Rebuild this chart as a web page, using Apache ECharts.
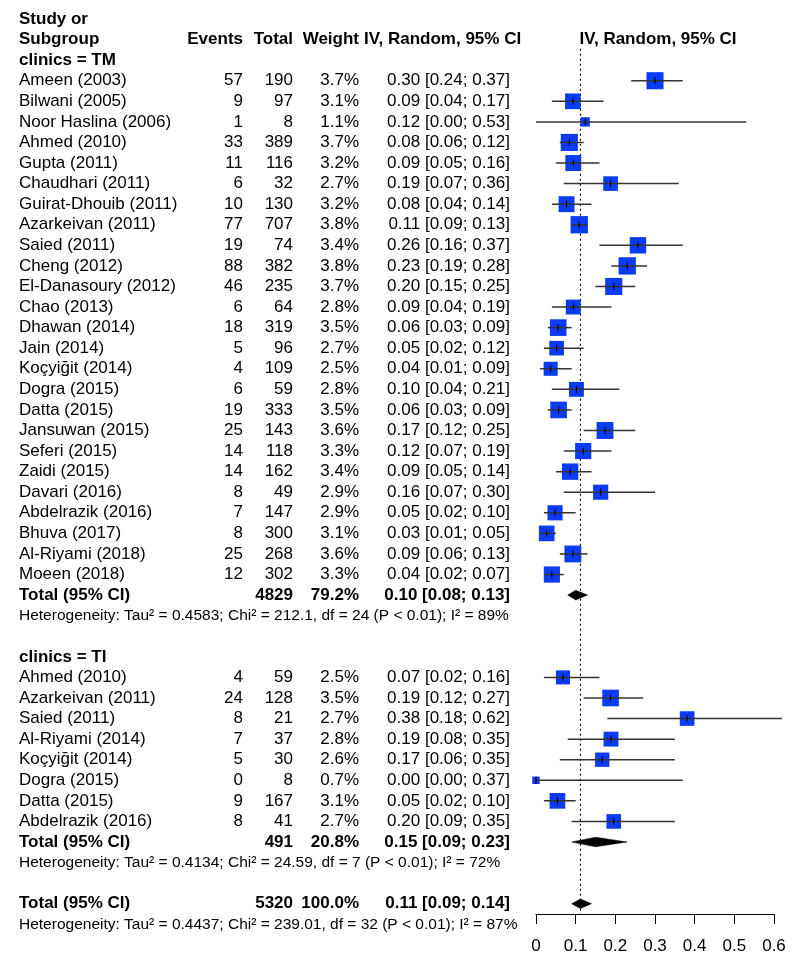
<!DOCTYPE html>
<html>
<head>
<meta charset="utf-8">
<script src="https://cdn.jsdelivr.net/npm/echarts@6/dist/echarts.min.js"></script>
<style>
html,body{margin:0;padding:0;background:#ffffff;}
#chart{width:800px;height:972px;}
</style>
</head>
<body>
<div id="chart"></div>
<script>
// ---------------- DATA ----------------
const tmStudies = ['Ameen (2003)','Bilwani (2005)','Noor Haslina (2006)','Ahmed (2010)','Gupta (2011)','Chaudhari (2011)','Guirat-Dhouib (2011)','Azarkeivan (2011)','Saied (2011)','Cheng (2012)','El-Danasoury (2012)','Chao (2013)','Dhawan (2014)','Jain (2014)','Koçyiğit (2014)','Dogra (2015)','Datta (2015)','Jansuwan (2015)','Seferi (2015)','Zaidi (2015)','Davari (2016)','Abdelrazik (2016)','Bhuva (2017)','Al-Riyami (2018)','Moeen (2018)'];
const tmEvents  = [57,9,1,33,11,6,10,77,19,88,46,6,18,5,4,6,19,25,14,14,8,7,8,25,12];
const tmTotals  = [190,97,8,389,116,32,130,707,74,382,235,64,319,96,109,59,333,143,118,162,49,147,300,268,302];
const tmWeights = [3.7,3.1,1.1,3.7,3.2,2.7,3.2,3.8,3.4,3.8,3.7,2.8,3.5,2.7,2.5,2.8,3.5,3.6,3.3,3.4,2.9,2.9,3.1,3.6,3.3];
const tmEst     = [0.300,0.093,0.124,0.084,0.094,0.188,0.077,0.109,0.257,0.230,0.196,0.094,0.056,0.052,0.037,0.102,0.057,0.174,0.119,0.086,0.163,0.048,0.027,0.093,0.040];
const tmLower   = [0.24,0.04,0.00,0.06,0.05,0.07,0.04,0.09,0.16,0.19,0.15,0.04,0.03,0.02,0.01,0.04,0.03,0.12,0.07,0.05,0.07,0.02,0.01,0.06,0.02];
const tmUpper   = [0.37,0.17,0.53,0.12,0.16,0.36,0.14,0.13,0.37,0.28,0.25,0.19,0.09,0.12,0.09,0.21,0.09,0.25,0.19,0.14,0.30,0.10,0.05,0.13,0.07];

const tiStudies = ['Ahmed (2010)','Azarkeivan (2011)','Saied (2011)','Al-Riyami (2014)','Koçyiğit (2014)','Dogra (2015)','Datta (2015)','Abdelrazik (2016)'];
const tiEvents  = [4,24,8,7,5,0,9,8];
const tiTotals  = [59,128,21,37,30,8,167,41];
const tiWeights = [2.5,3.5,2.7,2.8,2.6,0.7,3.1,2.7];
const tiEst     = [0.068,0.188,0.381,0.189,0.167,0.000,0.054,0.196];
const tiLower   = [0.02,0.12,0.18,0.08,0.06,0.00,0.02,0.09];
const tiUpper   = [0.16,0.27,0.62,0.35,0.35,0.37,0.10,0.35];

const pooledLabel   = 'Total (95% CI)';
const pooledTotals  = [4829,491,5320];
const pooledWeights = [79.2,20.8,100.0];
const pooledEst     = [0.100,0.150,0.112];
const pooledLower   = [0.08,0.09,0.09];
const pooledUpper   = [0.13,0.23,0.14];
const hetTexts = [
  'Heterogeneity: Tau² = 0.4583; Chi² = 212.1, df = 24 (P < 0.01); I² = 89%',
  'Heterogeneity: Tau² = 0.4134; Chi² = 24.59, df = 7 (P < 0.01); I² = 72%',
  'Heterogeneity: Tau² = 0.4437; Chi² = 239.01, df = 32 (P < 0.01); I² = 87%'
];
const subgroupLabels = ['clinics = TM','clinics = TI'];
const headerStudy = ['Study or','Subgroup'];
const headerCols = ['Events','Total','Weight','IV, Random, 95% CI'];
const plotHeader = 'IV, Random, 95% CI';
const xTicks = [0,0.1,0.2,0.3,0.4,0.5,0.6];

// ---------------- LAYOUT (positions / styles) ----------------
const FONT = 'Liberation Sans, Arial, Helvetica, sans-serif';
const COL = {study:19, events:243, total:293, weight:359, ci:510, ciHead:364, plotHead:658};
const MAIN_SIZE = 17, HET_SIZE = 15.5;
const SQUARE_K = 8.9;
const DIAMOND_HALF = 4.8;
const SQUARE_COLOR = '#0b3bf2';

// ---------------- BUILD ROWS ----------------
const texts = [];   // {x, r, text, align, bold, size}
const studyMarks = []; // [est, r, lo, hi, w]
const diamonds = [];   // [est, r, lo, hi]
function ciText(e,l,u){ return e.toFixed(2)+' ['+l.toFixed(2)+'; '+u.toFixed(2)+']'; }
function addText(x,r,text,align,bold,size){ texts.push({x,r,text,align,bold:!!bold,size:size||MAIN_SIZE}); }

addText(COL.study,-3,headerStudy[0],'left',true);
addText(COL.study,-2,headerStudy[1],'left',true);
addText(COL.events,-2,headerCols[0],'right',true);
addText(COL.total,-2,headerCols[1],'right',true);
addText(COL.weight,-2,headerCols[2],'right',true);
addText(COL.ciHead,-2,headerCols[3],'left',true);
addText(COL.plotHead,-2,plotHeader,'center',true);

function addGroup(startRow, label, studies, ev, tot, w, est, lo, hi, gi){
  addText(COL.study,startRow-1,label,'left',true);
  studies.forEach((s,i)=>{
    const r = startRow+i;
    addText(COL.study,r,s,'left');
    addText(COL.events,r,String(ev[i]),'right');
    addText(COL.total,r,String(tot[i]),'right');
    addText(COL.weight,r,w[i].toFixed(1)+'%','right');
    addText(COL.ci,r,ciText(est[i],lo[i],hi[i]),'right');
    studyMarks.push([est[i],r,lo[i],hi[i],w[i]]);
  });
  const tr = startRow+studies.length;
  addPooled(tr, gi);
  addText(COL.study,tr+1,hetTexts[gi],'left',false,HET_SIZE);
  return tr+1;
}
function addPooled(r, gi){
  addText(COL.study,r,pooledLabel,'left',true);
  addText(COL.total,r,String(pooledTotals[gi]),'right',true);
  addText(COL.weight,r,pooledWeights[gi].toFixed(1)+'%','right',true);
  addText(COL.ci,r,ciText(pooledEst[gi],pooledLower[gi],pooledUpper[gi]),'right',true);
  diamonds.push([pooledEst[gi],r,pooledLower[gi],pooledUpper[gi]]);
}
let last = addGroup(0, subgroupLabels[0], tmStudies, tmEvents, tmTotals, tmWeights, tmEst, tmLower, tmUpper, 0);
last = addGroup(last+3, subgroupLabels[1], tiStudies, tiEvents, tiTotals, tiWeights, tiEst, tiLower, tiUpper, 1);
const overallRow = last+2;
addPooled(overallRow, 2);
addText(COL.study,overallRow+1,hetTexts[2],'left',false,HET_SIZE);

// ---------------- CHART ----------------
const chart = echarts.init(document.getElementById('chart'), null, {renderer:'canvas'});
const ROW_TOP = -3, TEXT_MAX = overallRow+1, PLOT_MAX = overallRow+0.5;
const ROWH = 20.575, TOP = 19, H = 972;

chart.setOption({
  animation:false,
  backgroundColor:'#ffffff',
  grid:[
    {left:0, right:0, top:TOP, bottom:H-(TOP+(TEXT_MAX-ROW_TOP)*ROWH)},
    {left:536, right:26, top:TOP, bottom:H-(TOP+(PLOT_MAX-ROW_TOP)*ROWH)}
  ],
  xAxis:[
    {gridIndex:0, type:'value', min:0, max:800, show:false},
    {gridIndex:1, type:'value', min:xTicks[0], max:xTicks[xTicks.length-1], interval:0.1,
     axisLine:{show:true, onZero:false, lineStyle:{color:'#000', width:1}},
     axisTick:{show:true, length:10, lineStyle:{color:'#000', width:1}},
     axisLabel:{color:'#000', fontSize:MAIN_SIZE, fontFamily:FONT, margin:24,
       formatter:(v)=>{ const t = xTicks.find(k=>Math.abs(k-v)<1e-9); return t===undefined?'':String(t); }},
     splitLine:{show:false}}
  ],
  yAxis:[
    {gridIndex:0, type:'value', min:ROW_TOP, max:TEXT_MAX, inverse:true, show:false},
    {gridIndex:1, type:'value', min:ROW_TOP, max:PLOT_MAX, inverse:true, show:false}
  ],
  series:[
    { // reference line at overall estimate
      type:'custom', xAxisIndex:1, yAxisIndex:1, clip:false, z:1,
      data:[[pooledEst[2], -1.55, PLOT_MAX]],
      renderItem:(params, api)=>{
        const a = api.coord([api.value(0), api.value(1)]);
        const b = api.coord([api.value(0), api.value(2)]);
        return {type:'line', shape:{x1:a[0],y1:a[1],x2:b[0],y2:b[1]},
          style:{stroke:'#000', lineWidth:1.1, lineDash:[2,3]}};
      }
    },
    { // study squares + CIs
      type:'custom', xAxisIndex:1, yAxisIndex:1, clip:false, z:3,
      data:studyMarks,
      encode:{x:0, y:1},
      renderItem:(params, api)=>{
        const e = api.value(0), r = api.value(1), lo = api.value(2), hi = api.value(3), w = api.value(4);
        const c = api.coord([e,r]), l = api.coord([lo,r]), h = api.coord([hi,r]);
        const s = SQUARE_K*Math.sqrt(w);
        return {type:'group', children:[
          {type:'rect', shape:{x:c[0]-s/2, y:c[1]-s/2, width:s, height:s}, style:{fill:SQUARE_COLOR}},
          {type:'line', shape:{x1:l[0],y1:c[1],x2:h[0],y2:c[1]}, style:{stroke:'#333', lineWidth:1.5}},
          {type:'line', shape:{x1:c[0],y1:c[1]-3.5,x2:c[0],y2:c[1]+3.5}, style:{stroke:'#000', lineWidth:1}}
        ]};
      }
    },
    { // pooled diamonds
      type:'custom', xAxisIndex:1, yAxisIndex:1, clip:false, z:4,
      data:diamonds,
      encode:{x:0, y:1},
      renderItem:(params, api)=>{
        const e = api.value(0), r = api.value(1), lo = api.value(2), hi = api.value(3);
        const c = api.coord([e,r]), l = api.coord([lo,r]), h = api.coord([hi,r]);
        return {type:'polygon', shape:{points:[[l[0],c[1]],[c[0],c[1]-DIAMOND_HALF],[h[0],c[1]],[c[0],c[1]+DIAMOND_HALF]]},
          style:{fill:'#000', stroke:'#000', lineWidth:0.5}};
      }
    },
    { // all text
      type:'custom', xAxisIndex:0, yAxisIndex:0, clip:false, z:5,
      data:texts.map(t=>[t.x,t.r]),
      encode:{x:0, y:1},
      renderItem:(params, api)=>{
        const t = texts[params.dataIndex];
        const p = api.coord([t.x, t.r]);
        return {type:'text', x:p[0], y:p[1],
          style:{text:t.text, fill:'#000', align:t.align, verticalAlign:'middle',
            textAlign:t.align, textVerticalAlign:'middle',
            fontFamily:FONT, fontSize:t.size, fontWeight:t.bold?'bold':'normal'}};
      }
    }
  ]
});
</script>
</body>
</html>
